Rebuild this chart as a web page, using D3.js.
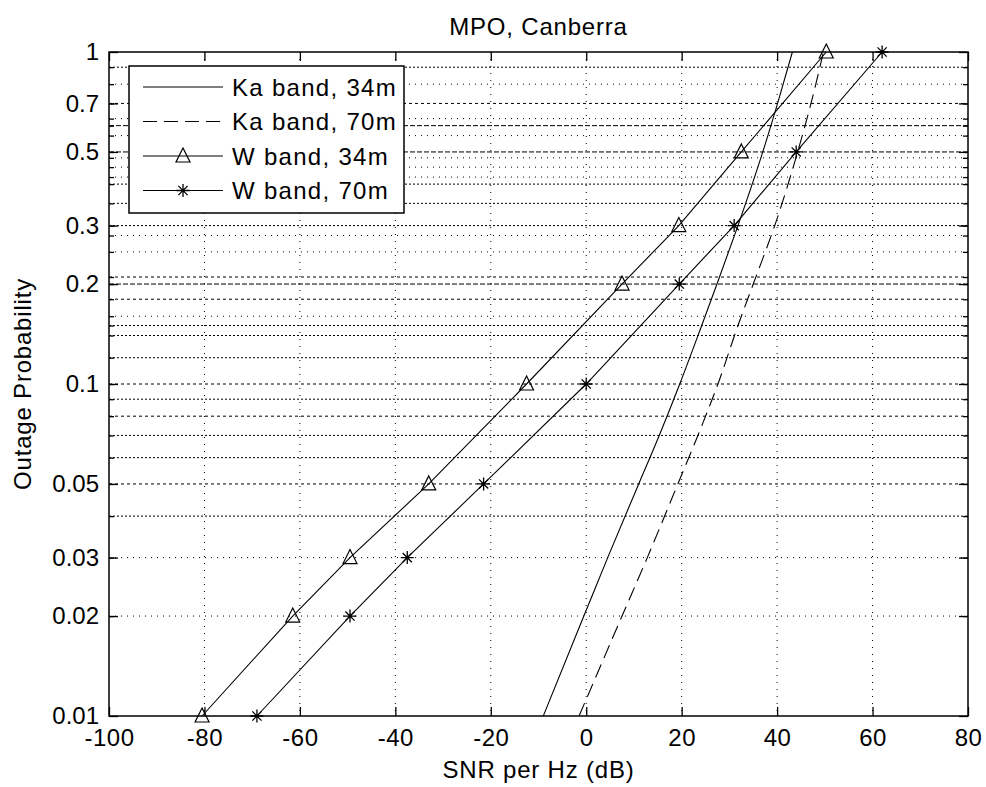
<!DOCTYPE html>
<html>
<head>
<meta charset="utf-8">
<script src="https://cdn.jsdelivr.net/npm/d3@7/dist/d3.min.js"></script>
<style>
  html, body { margin: 0; padding: 0; background: #fff; }
  text { font-family: "Liberation Sans", Arial, sans-serif; fill: #000; }
</style>
</head>
<body>
<svg id="chart" width="986" height="787"></svg>
<script>
// Outage probability versus SNR per Hz, MPO Canberra
const title = "MPO, Canberra";
const xLabel = "SNR per Hz (dB)";
const yLabel = "Outage Probability";

const xTicks = [-100, -80, -60, -40, -20, 0, 20, 40, 60, 80];
const yTicks = [0.01, 0.02, 0.03, 0.05, 0.1, 0.2, 0.3, 0.5, 0.7, 1];
const yTickLabels = ["0.01", "0.02", "0.03", "0.05", "0.1", "0.2", "0.3", "0.5", "0.7", "1"];

// horizontal grid levels
const gridLevels = [0.02, 0.03, 0.04, 0.05, 0.06, 0.07, 0.08, 0.09, 0.1,
  0.12, 0.14, 0.15, 0.16, 0.18, 0.2, 0.21, 0.25, 0.28, 0.3, 0.35, 0.4,
  0.42, 0.45, 0.48, 0.5, 0.56, 0.6, 0.63, 0.7, 0.8, 0.9];

// Ka band curves (smooth, no markers)
const kaProb = [0.01, 0.02, 0.03, 0.05, 0.07, 0.1, 0.15, 0.2, 0.3, 0.5, 0.7, 1];
const ka34 = [-9, -0.5, 4.5, 11, 15.3, 19.6, 24.2, 27.4, 31.8, 37, 40.1, 43.2];
const ka70 = [-1.5, 7.5, 12.8, 19.2, 23.4, 27.6, 31.8, 35, 39.5, 44.3, 47.1, 49.7];

// W band curves (with markers)
const wProb = [0.01, 0.02, 0.03, 0.05, 0.1, 0.2, 0.3, 0.5, 1];
const w34 = [-80.5, -61.5, -49.5, -33, -12.5, 7.5, 19.4, 32.5, 50.3];
const w70 = [-69, -49.5, -37.5, -21.5, 0, 19.5, 31, 44, 62];

const legendLabels = ["Ka band, 34m", "Ka band, 70m", "W band, 34m", "W band, 70m"];

const svg = d3.select("#chart");
const pLeft = 109, pRight = 968, pTop = 52, pBottom = 716;

const x = d3.scaleLinear().domain([-100, 80]).range([pLeft, pRight]);
const y = d3.scaleLog().domain([0.01, 1]).range([pBottom, pTop]);

// dash style for each horizontal grid level
function gridDash(v) {
  const r = Math.round(v * 100);
  if ([60, 50, 20].includes(r)) return "5,2";
  if ([70, 21, 18, 10, 8, 5].includes(r)) return "3,3";
  if ([90, 40, 35, 30, 15, 14, 12, 9, 7, 6, 4].includes(r)) return "2,2";
  return "1,5";
}

const grid = svg.append("g");
grid.selectAll("line.h").data(gridLevels).join("line")
  .attr("class", "h")
  .attr("x1", pLeft).attr("x2", pRight)
  .attr("y1", d => y(d)).attr("y2", d => y(d))
  .attr("stroke", "#000").attr("stroke-width", 1)
  .attr("stroke-dasharray", d => gridDash(d));

grid.selectAll("line.v").data(xTicks.slice(1, -1)).join("line")
  .attr("class", "v")
  .attr("x1", d => x(d)).attr("x2", d => x(d))
  .attr("y1", pTop).attr("y2", pBottom)
  .attr("stroke", "#000").attr("stroke-width", 1)
  .attr("stroke-dasharray", "1,6");

// axes: labels on bottom and left, inward ticks on all four sides
const fmtY = d => yTickLabels[yTicks.indexOf(d)];
const fmtX = d => String(d);
const axisFont = "24px";

const xAxis = svg.append("g").attr("transform", `translate(0,${pBottom})`)
  .call(d3.axisBottom(x).tickValues(xTicks).tickFormat(fmtX).tickSizeInner(-9).tickSizeOuter(0).tickPadding(13));
const yAxis = svg.append("g").attr("transform", `translate(${pLeft},0)`)
  .call(d3.axisLeft(y).tickValues(yTicks).tickFormat(fmtY).tickSizeInner(-9).tickSizeOuter(0).tickPadding(10));
const xTop = svg.append("g").attr("transform", `translate(0,${pTop})`)
  .call(d3.axisTop(x).tickValues(xTicks).tickSizeInner(-9).tickSizeOuter(0).tickFormat(""));
const yRight = svg.append("g").attr("transform", `translate(${pRight},0)`)
  .call(d3.axisRight(y).tickValues(yTicks).tickSizeInner(-9).tickSizeOuter(0).tickFormat(""));

// minor ticks at grid levels
const yMinorL = svg.append("g").attr("transform", `translate(${pLeft},0)`)
  .call(d3.axisLeft(y).tickValues(gridLevels).tickSizeInner(-5).tickSizeOuter(0).tickFormat(""));
const yMinorR = svg.append("g").attr("transform", `translate(${pRight},0)`)
  .call(d3.axisRight(y).tickValues(gridLevels).tickSizeInner(-5).tickSizeOuter(0).tickFormat(""));

[xAxis, yAxis, xTop, yRight, yMinorL, yMinorR].forEach(g => {
  g.select(".domain").remove();
  g.selectAll(".tick line").attr("stroke", "#000").attr("stroke-width", 1.3);
  g.selectAll("text").style("font-size", axisFont).style("font-family", "'Liberation Sans', Arial, sans-serif").attr("fill", "#000");
});
xAxis.selectAll("text").attr("dy", "0.71em").style("letter-spacing", "0.5px");

// plot frame
svg.append("rect")
  .attr("x", pLeft).attr("y", pTop)
  .attr("width", pRight - pLeft).attr("height", pBottom - pTop)
  .attr("fill", "none").attr("stroke", "#000").attr("stroke-width", 1.5);

// series
const series = [
  { label: legendLabels[0], xs: ka34, ps: kaProb, dash: null, marker: null, smooth: true },
  { label: legendLabels[1], xs: ka70, ps: kaProb, dash: "14,7", marker: null, smooth: true },
  { label: legendLabels[2], xs: w34, ps: wProb, dash: null, marker: "tri", smooth: false },
  { label: legendLabels[3], xs: w70, ps: wProb, dash: null, marker: "star", smooth: false }
];

const lineLinear = d3.line().x(d => x(d[0])).y(d => y(d[1]));
const lineSmooth = d3.line().x(d => x(d[0])).y(d => y(d[1])).curve(d3.curveMonotoneY);

const plot = svg.append("g");
function drawMarker(g, kind, cx, cy) {
  if (kind === "tri") {
    g.append("path")
      .attr("d", `M${cx},${cy - 8}L${cx + 7},${cy + 6}L${cx - 7},${cy + 6}Z`)
      .attr("fill", "none").attr("stroke", "#000").attr("stroke-width", 1.2);
  } else if (kind === "star") {
    const r = 6.5, q = 4.6;
    g.append("path")
      .attr("d", `M${cx - r},${cy}L${cx + r},${cy}M${cx},${cy - r}L${cx},${cy + r}` +
                 `M${cx - q},${cy - q}L${cx + q},${cy + q}M${cx - q},${cy + q}L${cx + q},${cy - q}`)
      .attr("fill", "none").attr("stroke", "#000").attr("stroke-width", 1.3);
  }
}

series.forEach(s => {
  const pts = s.xs.map((v, i) => [v, s.ps[i]]);
  plot.append("path").datum(pts)
    .attr("d", s.smooth ? lineSmooth : lineLinear)
    .attr("fill", "none").attr("stroke", "#000").attr("stroke-width", 1.1)
    .attr("stroke-dasharray", s.dash);
  if (s.marker) pts.forEach(p => drawMarker(plot, s.marker, x(p[0]), y(p[1])));
});

// legend
const lg = svg.append("g");
lg.append("rect").attr("x", 129).attr("y", 66).attr("width", 275).attr("height", 147)
  .attr("fill", "#fff").attr("stroke", "#000").attr("stroke-width", 1.5);
series.forEach((s, i) => {
  const ly = 87 + i * 34.5;
  lg.append("line").attr("x1", 143).attr("x2", 223).attr("y1", ly).attr("y2", ly)
    .attr("stroke", "#000").attr("stroke-width", 1.1).attr("stroke-dasharray", s.dash);
  if (s.marker) drawMarker(lg, s.marker, 183, ly);
  lg.append("text").attr("x", 232).attr("y", ly).attr("dy", "0.36em")
    .style("font-size", "24px").style("letter-spacing", "1.3px").text(s.label);
});

// titles
svg.append("text").attr("x", (pLeft + pRight) / 2).attr("y", 35)
  .attr("text-anchor", "middle").style("font-size", "24px").style("letter-spacing", "0.8px").text(title);
svg.append("text").attr("x", (pLeft + pRight) / 2).attr("y", 778)
  .attr("text-anchor", "middle").style("font-size", "24px").style("letter-spacing", "0.8px").text(xLabel);
svg.append("text").attr("transform", `translate(31,${(pTop + pBottom) / 2}) rotate(-90)`)
  .attr("text-anchor", "middle").style("font-size", "24px").style("letter-spacing", "0.8px").text(yLabel);
</script>
</body>
</html>
